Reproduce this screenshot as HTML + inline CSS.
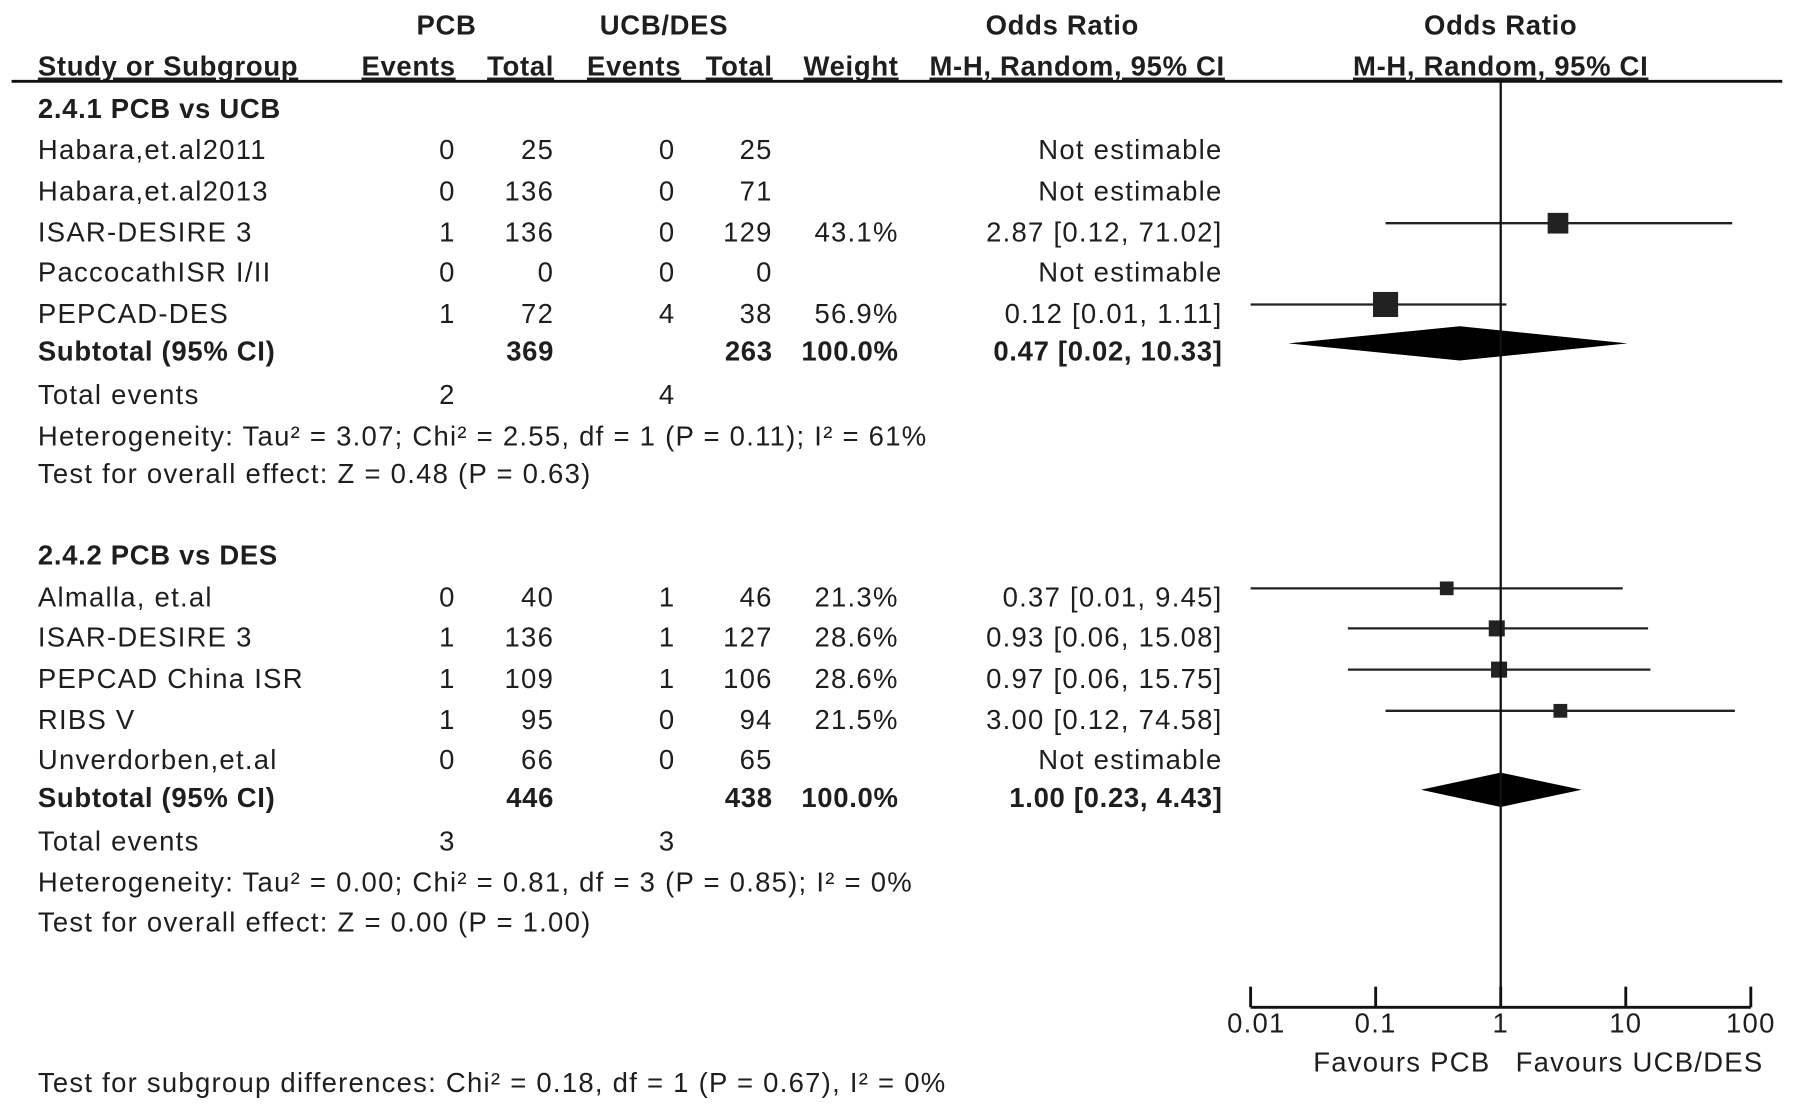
<!DOCTYPE html>
<html><head><meta charset="utf-8"><style>
html,body{margin:0;padding:0;background:#fff;}
svg{display:block;}
text{font-family:"Liberation Sans",Arial,sans-serif;font-size:24px;letter-spacing:1.1px;fill:#1e1e1e;}
.b{font-weight:bold;letter-spacing:0.6px;}
</style></head><body>
<svg id="plot" width="1795" height="1108" viewBox="0 0 1568 968" xmlns="http://www.w3.org/2000/svg">
<g id="table"></g>
<g id="chart"></g>
</svg>
<script>
const studies = ["Habara,et.al2011","Habara,et.al2013","ISAR-DESIRE 3","PaccocathISR I/II","PEPCAD-DES","Almalla, et.al","ISAR-DESIRE 3","PEPCAD China ISR","RIBS V","Unverdorben,et.al"];
const groups = [0,0,0,0,0,1,1,1,1,1];
const pcbEvents = [0,0,1,0,1,0,1,1,1,0];
const pcbTotal = [25,136,136,0,72,40,136,109,95,66];
const ctlEvents = [0,0,0,0,4,1,1,1,0,0];
const ctlTotal = [25,71,129,0,38,46,127,106,94,65];
const weights = [null,null,43.1,null,56.9,21.3,28.6,28.6,21.5,null];
const orVal = [null,null,2.87,null,0.12,0.37,0.93,0.97,3.00,null];
const orLo = [null,null,0.12,null,0.01,0.01,0.06,0.06,0.12,null];
const orHi = [null,null,71.02,null,1.11,9.45,15.08,15.75,74.58,null];
const subOR = [0.47,1.00];
const subLo = [0.02,0.23];
const subHi = [10.33,4.43];
const subPcbTotal = [369,446];
const subCtlTotal = [263,438];
const totPcbEvents = [2,3];
const totCtlEvents = [4,3];
const hetText = ["Heterogeneity: Tau² = 3.07; Chi² = 2.55, df = 1 (P = 0.11); I² = 61%","Heterogeneity: Tau² = 0.00; Chi² = 0.81, df = 3 (P = 0.85); I² = 0%"];
const effText = ["Test for overall effect: Z = 0.48 (P = 0.63)","Test for overall effect: Z = 0.00 (P = 1.00)"];
const groupTitles = ["2.4.1 PCB vs UCB","2.4.2 PCB vs DES"];
const ticks = [0.01,0.1,1,10,100];
const tickLabels = ["0.01","0.1","1","10","100"];

const NS="http://www.w3.org/2000/svg";
const T=document.getElementById('table'), C=document.getElementById('chart');
function el(tag,attrs,parent){const e=document.createElementNS(NS,tag);for(const k in attrs)e.setAttribute(k,attrs[k]);parent.appendChild(e);return e;}
function txt(s,x,y,anchor,cls,name,parent){const e=el('text',{x:x,y:y,'text-anchor':anchor||'start'},parent||T);if(cls)e.setAttribute('class',cls);e.textContent=s;


return e;}
const xs=v=>1311+109.25*Math.log10(v);
const f2=v=>v.toFixed(2);

txt("PCB",390,30,'middle','b','pcb-header');
txt("UCB/DES",580,30,'middle','b','ucb-des-header');
txt("Odds Ratio",928,30,'middle','b','odds-ratio-header');
txt("Odds Ratio",1311,30,'middle','b','odds-ratio-plot-header');
[["Study or Subgroup",33,'start'],["Events",398,'end'],["Total",484,'end'],["Events",595,'end'],["Total",675,'end'],["Weight",785,'end'],["M-H, Random, 95% CI",1070,'end']].forEach(h=>{
 const t=txt(h[0],h[1],66,h[2],'b','column-header');t.setAttribute('text-decoration','underline');});
const t2=txt("M-H, Random, 95% CI",1311,66,'middle','b','plot-header');t2.setAttribute('text-decoration','underline');
el('line',{x1:10,y1:71,x2:1557,y2:71,stroke:'#111','stroke-width':2.5},T);

const rowY=[[131,167,203,238,274],[522,557,593,629,664]];
const titleY=[95,485], subY=[307,697], totY=[345,735], hetY=[381,771], effY=[414,806];
const cnt=[0,0];
for(let g=0;g<2;g++){
 txt(groupTitles[g],33,titleY[g]+8,'start','b','subgroup-title');
}
studies.forEach((s,i)=>{
 const g=groups[i], y=rowY[g][cnt[g]++], ty=y+8;
 txt(s,33,ty,'start','','study-name');
 txt(String(pcbEvents[i]),398,ty,'end','','pcb-events');
 txt(String(pcbTotal[i]),484,ty,'end','','pcb-total');
 txt(String(ctlEvents[i]),590,ty,'end','','ctl-events');
 txt(String(ctlTotal[i]),675,ty,'end','','ctl-total');
 if(weights[i]!=null) txt(weights[i].toFixed(1)+"%",785,ty,'end','','weight');
 txt(orVal[i]==null?"Not estimable":f2(orVal[i])+" ["+f2(orLo[i])+", "+f2(orHi[i])+"]",1068,ty,'end','','odds-ratio-ci');
 if(orVal[i]!=null){
  const cy=y-8;
  const l=el('line',{x1:xs(orLo[i]),y1:cy,x2:xs(orHi[i]),y2:cy,stroke:'#222','stroke-width':2},C);
  
  
  const sz=6+weights[i]*0.28;
  const r=el('rect',{x:xs(orVal[i])-sz/2,y:cy-sz/2,width:sz,height:sz,fill:'#222'},C);
  
  
 }
});
for(let g=0;g<2;g++){
 const y=subY[g]+8;
 txt("Subtotal (95% CI)",33,y,'start','b','subtotal-label');
 txt(String(subPcbTotal[g]),484,y,'end','b','subtotal-pcb');
 txt(String(subCtlTotal[g]),675,y,'end','b','subtotal-ctl');
 txt("100.0%",785,y,'end','b','subtotal-weight');
 txt(f2(subOR[g])+" ["+f2(subLo[g])+", "+f2(subHi[g])+"]",1068,y,'end','b','subtotal-or');
 const cy=subY[g]-7,h=15;
 const d=el('polygon',{points:`${xs(subLo[g])},${cy} ${xs(subOR[g])},${cy-h} ${xs(subHi[g])},${cy} ${xs(subOR[g])},${cy+h}`,fill:'#000'},C);
 
 
 txt("Total events",33,totY[g]+8,'start','','total-events-label');
 txt(String(totPcbEvents[g]),398,totY[g]+8,'end','','total-pcb-events');
 txt(String(totCtlEvents[g]),590,totY[g]+8,'end','','total-ctl-events');
 txt(hetText[g],33,hetY[g]+8,'start','','heterogeneity');
 txt(effText[g],33,effY[g]+8,'start','','overall-effect');
}
el('line',{x1:1311,y1:71,x2:1311,y2:880,stroke:'#111','stroke-width':2},C);
el('line',{x1:xs(0.01),y1:880,x2:xs(100),y2:880,stroke:'#111','stroke-width':2.5},C);
ticks.forEach((t,i)=>{
 el('line',{x1:xs(t),y1:862,x2:xs(t),y2:880,stroke:'#111','stroke-width':2.5},C);
 txt(tickLabels[i],xs(t)+(i==0?5:0),902,'middle','','tick-label',C);
});
txt("Favours PCB",1302,936,'end','','favours-pcb-label',C);
txt("Favours UCB/DES",1324,936,'start','','favours-ucb-des-label',C);
txt("Test for subgroup differences: Chi² = 0.18, df = 1 (P = 0.67), I² = 0%",33,954,'start','','subgroup-differences');
</script>
</body></html>
